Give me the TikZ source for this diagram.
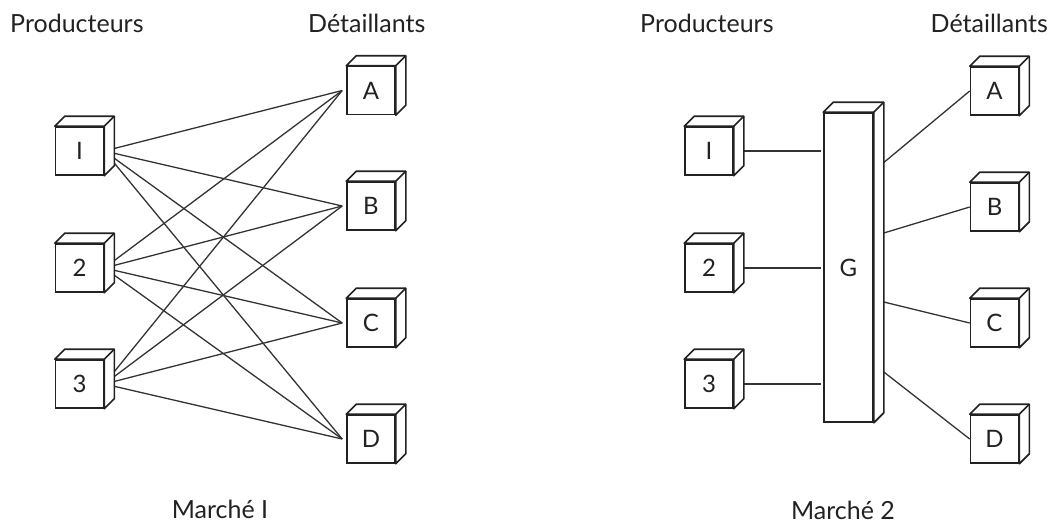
\documentclass[tikz,border=0pt]{standalone}
\usepackage{fontspec}
\setmainfont{Lato}
\usetikzlibrary{calc}
\definecolor{ink}{HTML}{222222}
\definecolor{wire}{HTML}{333333}
\begin{document}
\begin{tikzpicture}[x=1pt,y=-1pt,
  box/.style={draw=ink, line width=1.6pt, fill=white, minimum width=48pt,
    minimum height=48pt, inner sep=0pt, font=\fontsize{24}{28}\selectfont, text=ink},
  face/.style={draw=ink, line width=1.6pt, fill=white, line join=round},
  link/.style={draw=wire, line width=1.3pt},
  head/.style={font=\fontsize{25}{30}\selectfont, text=ink, inner sep=0pt}]
\useasboundingbox (0,0) rectangle (1054,525);

% headings
\node[head, anchor=base west] (h1) at (10,32) {Producteurs};
\node[head, anchor=base west] (h2) at (308,32) {Détaillants};
\node[head, anchor=base west] (h3) at (640,32) {Producteurs};
\node[head, anchor=base east] (h4) at (1048,32) {Détaillants};
\node[head, anchor=base] (m1) at (220,518) {Marché I};
\node[head, anchor=base] (m2) at (843,519) {Marché 2};

% market 1: producers and retailers (front faces)
\node[box] (p1) at (79.5,151) {I};
\node[box] (p2) at (79.5,268) {2};
\node[box] (p3) at (79.5,384) {3};
\node[box] (rA) at (371,90.5) {A};
\node[box] (rB) at (371,206) {B};
\node[box] (rC) at (371,323) {C};
\node[box] (rD) at (371,439) {D};

% market 2: producers, wholesaler, retailers
\node[box] (q1) at (709,151) {I};
\node[box] (q2) at (709,268) {2};
\node[box] (q3) at (709,384) {3};
\node[box, minimum width=49pt, minimum height=309pt] (G) at (848.5,267.5) {G};
\node[box] (sA) at (994.5,91) {A};
\node[box] (sB) at (994.5,207) {B};
\node[box] (sC) at (994.5,323) {C};
\node[box] (sD) at (994.5,439) {D};

% market 1: every producer to every retailer
\foreach \p in {p1,p2,p3}
  \foreach \r in {rA,rB,rC,rD}
    \draw[link] (\p.east) -- ([xshift=-4pt]\r.west);

% market 2: producers to the wholesaler
\foreach \p in {q1,q2,q3}
  \draw[link] (\p.east) -- ([xshift=-2pt]\p.east -| G.west);

% market 2: wholesaler to retailers
\draw[link] ([shift={(10,-105)}]G.east) -- (sA.west);
\draw[link] ([shift={(10,-34.5)}]G.east) -- (sB.west);
\draw[link] ([shift={(10,34.5)}]G.east) -- (sC.west);
\draw[link] ([shift={(10,104.5)}]G.east) -- (sD.west);

% top and side faces of every box
\foreach \n in {p1,p2,p3,rA,rB,rC,rD,q1,q2,q3,G,sA,sB,sC,sD} {
  \filldraw[face] (\n.north west) -- ++(10,-10)
    -- ($(\n.north east)+(10,-10)$) -- ($(\n.south east)+(10,-10)$)
    -- (\n.south east) -- (\n.north east) -- cycle;
  \draw[face] (\n.north east) -- ++(10,-10);
}
\end{tikzpicture}
\end{document}
